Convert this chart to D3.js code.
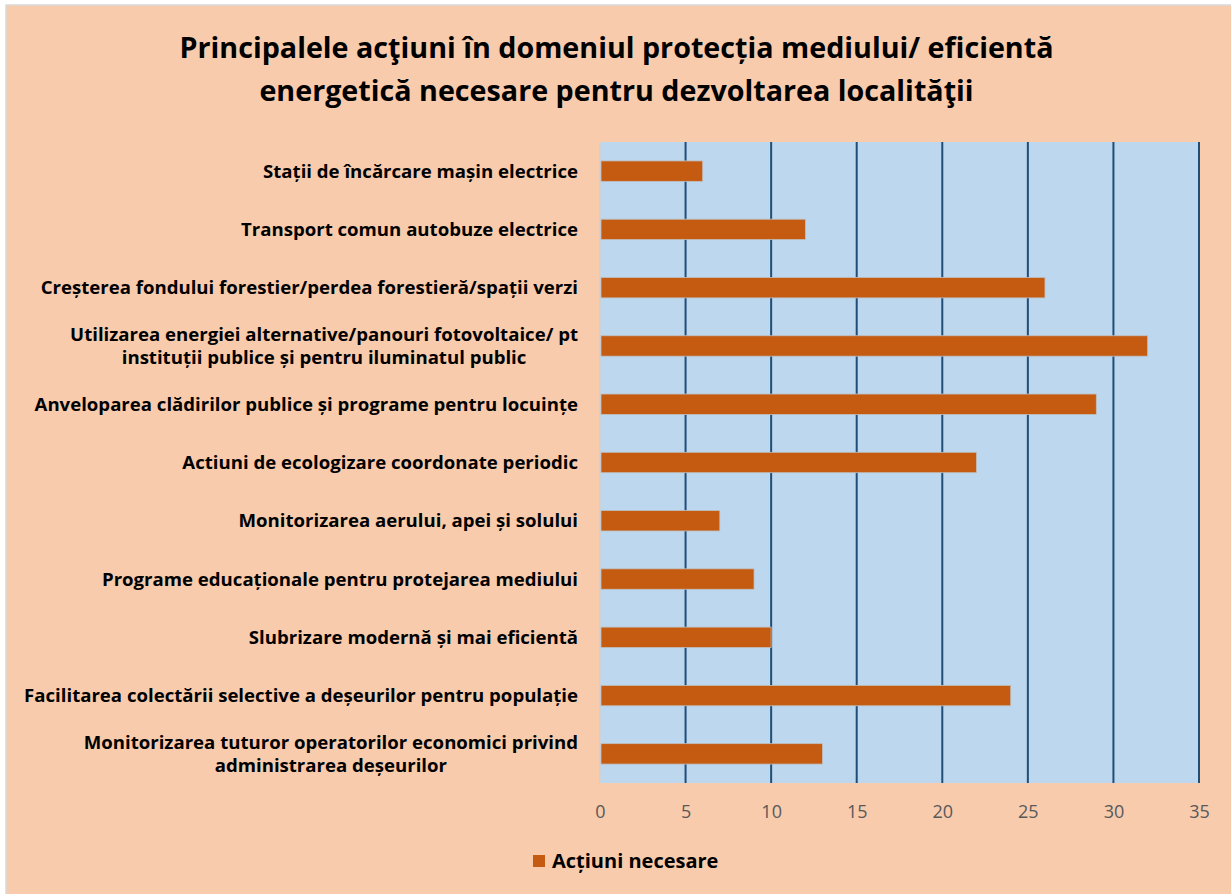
<!DOCTYPE html>
<html><head><meta charset="utf-8">
<script src="https://cdn.jsdelivr.net/npm/d3@7"></script>
<style>
html,body{margin:0;padding:0;background:#fff;}
svg{display:block;}
</style></head>
<body>
<script>
const categories = [
  ["Stații de încărcare mașin electrice"],
  ["Transport comun autobuze electrice"],
  ["Creșterea fondului forestier/perdea forestieră/spații verzi"],
  ["Utilizarea energiei alternative/panouri fotovoltaice/ pt", "instituții publice și pentru iluminatul public"],
  ["Anveloparea clădirilor publice și programe pentru locuințe"],
  ["Actiuni de ecologizare coordonate periodic"],
  ["Monitorizarea aerului, apei și solului"],
  ["Programe educaționale pentru protejarea mediului"],
  ["Slubrizare modernă și mai eficientă"],
  ["Facilitarea colectării selective a deșeurilor pentru populație"],
  ["Monitorizarea tuturor operatorilor economici privind", "administrarea deșeurilor"]
];
const values = [6, 12, 26, 32, 29, 22, 7, 9, 10, 24, 13];
const xTicks = [0, 5, 10, 15, 20, 25, 30, 35];
const titleLines = ["Principalele acţiuni în domeniul protecția mediului/ eficientă", "energetică necesare pentru dezvoltarea localităţii"];
const seriesName = "Acțiuni necesare";

const W = 1231, H = 894;
const FONT = "'Open Sans', sans-serif";
const svg = d3.select("body").append("svg").attr("width", W).attr("height", H);

svg.append("rect").attr("x", 6).attr("y", 5).attr("width", W).attr("height", H)
  .attr("fill", "#F8CBAD").attr("stroke", "#D9D9D9").attr("stroke-width", 1.5);

const plot = {left: 600, right: 1199, top: 142, bottom: 783};
const x = d3.scaleLinear().domain([0, 35]).range([plot.left, plot.right]);
const keys = categories.map(c => c.join(" "));
const y = d3.scaleBand().domain(keys).range([plot.top, plot.bottom]).paddingInner(0.65).paddingOuter(0.325);

svg.append("rect").attr("x", plot.left).attr("y", plot.top)
  .attr("width", plot.right - plot.left).attr("height", plot.bottom - plot.top)
  .attr("fill", "#BDD7EE");

// gridlines
svg.append("g").selectAll("line").data(xTicks).join("line")
  .attr("x1", d => x(d)).attr("x2", d => x(d))
  .attr("y1", plot.top).attr("y2", plot.bottom)
  .attr("stroke", d => d === 0 ? "#D0D0D0" : "#1F4E79")
  .attr("stroke-width", d => d === 0 ? 1.5 : 2);

// bars
svg.append("g").selectAll("rect").data(values).join("rect")
  .attr("x", x(0) + 1)
  .attr("y", (d, i) => y(keys[i]))
  .attr("width", d => x(d) - x(0) - 1)
  .attr("height", y.bandwidth())
  .attr("fill", "#C55A11")
  .attr("stroke", "#BFBFBF").attr("stroke-width", 0.8);

// x axis labels
const xAxis = d3.axisBottom(x).tickValues(xTicks).tickSize(0).tickPadding(0);
const gx = svg.append("g").attr("transform", `translate(0,${plot.bottom + 22})`).call(xAxis);
gx.select(".domain").remove();
gx.selectAll("text").attr("font-family", FONT).attr("font-size", 18).attr("fill", "#595959").attr("dy", "0.71em");

// category labels
const labelRight = 578;
const lg = svg.append("g");
categories.forEach((lines, i) => {
  const cy = y(keys[i]) + y.bandwidth() / 2;
  const lh = 23;
  const g = lg.append("g");
  const texts = lines.map((ln, j) => g.append("text")
    .attr("font-family", FONT).attr("font-weight", "bold").attr("font-size", 18.6)
    .attr("fill", "#000")
    .attr("y", cy + (j - (lines.length - 1) / 2) * lh)
    .attr("dy", "0.35em")
    .text(ln));
  const widths = texts.map(t => t.node().getComputedTextLength());
  const maxW = Math.max(...widths);
  texts.forEach(t => {
    if (lines.length > 1) t.attr("text-anchor", "middle").attr("x", labelRight - maxW / 2);
    else t.attr("text-anchor", "end").attr("x", labelRight);
  });
});

// title
titleLines.forEach((t, i) => {
  svg.append("text").attr("x", 616.5).attr("y", 58 + i * 43)
    .attr("text-anchor", "middle")
    .attr("font-family", FONT).attr("font-weight", "bold").attr("font-size", 28.7)
    .attr("fill", "#000").text(t);
});

// legend
const leg = svg.append("g");
leg.append("rect").attr("x", 533).attr("y", 855).attr("width", 12).attr("height", 12).attr("fill", "#C55A11");
leg.append("text").attr("x", 552).attr("y", 861).attr("dy", "0.35em")
  .attr("font-family", FONT).attr("font-weight", "bold").attr("font-size", 20)
  .attr("fill", "#000").text(seriesName);
</script>
</body></html>
